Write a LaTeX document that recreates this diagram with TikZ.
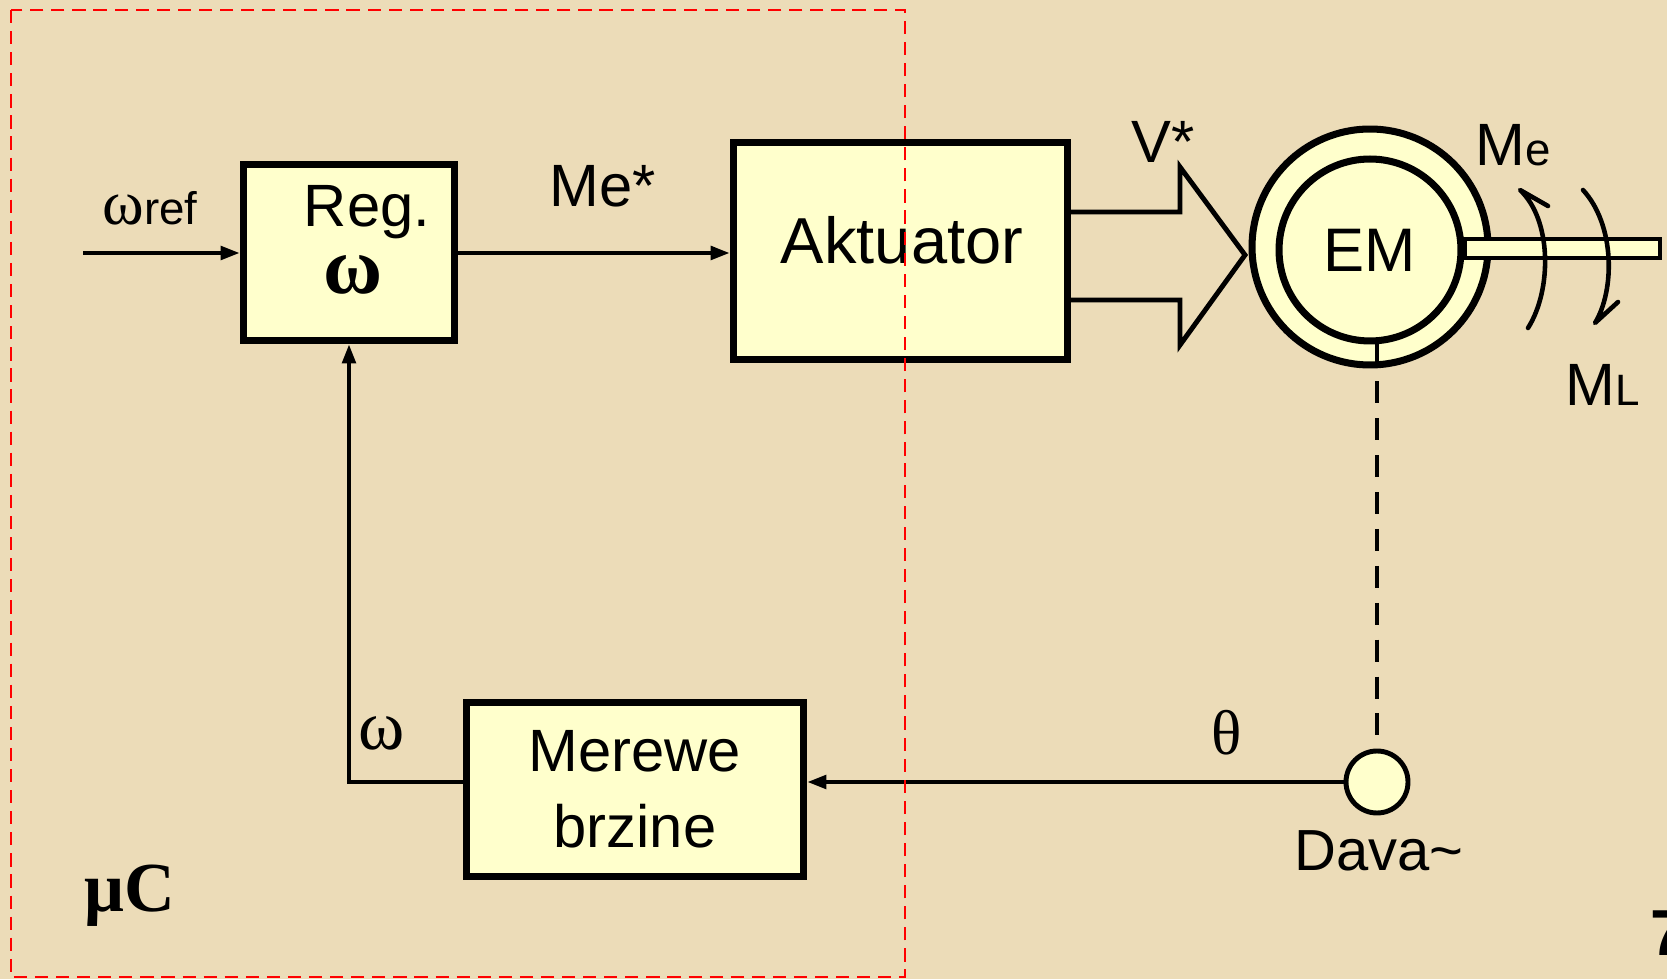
\documentclass[tikz,border=0pt]{standalone}
\usepackage{fontspec}
\setmainfont{Liberation Serif}
\setsansfont{Liberation Sans}
\usetikzlibrary{arrows.meta}
\definecolor{parch}{RGB}{236,220,184}
\definecolor{boxyel}{RGB}{255,255,204}

\begin{document}
\begin{tikzpicture}[x=0.02cm, y=-0.02cm, every node/.style={inner sep=0pt, font=\sffamily\fontsize{34}{43}\selectfont},
	blok/.style={draw=black, line width=4pt, fill=boxyel},
	veza/.style={line width=2.6pt, -{Triangle[length=11pt, width=7.5pt]}},
	okret/.style={line width=2.6pt, line cap=round, line join=round},
	grk/.style={font=\rmfamily\fontsize{40}{44}\selectfont}]
	\path[use as bounding box, fill=parch] (0,0) rectangle (1667,979);
	\node[blok, minimum width=4.22cm, minimum height=3.52cm] (reg) at (349,252.5) {};
	\node (regtxt) at (367,212) {Reg.};
	\node[grk, font=\rmfamily\bfseries\fontsize{46}{50}\selectfont] (regw) at (353,275) {ω};
	\node[blok, minimum width=6.68cm, minimum height=4.34cm] (akt) at (900.5,251) {};
	\node[font=\sffamily\fontsize{37}{40}\selectfont] (akttxt) at (902,240) {Aktuator};
	\node[blok, minimum width=6.74cm, minimum height=3.48cm, align=center] (mer) at (635,789.5) {Merewe\\brzine};
	\node[blok, circle, minimum size=4.72cm] (emout) at (1370,247) {};
	\node[blok, circle, minimum size=3.64cm, font=\sffamily\fontsize{35}{40}\selectfont] (em) at (1370,250) {EM};
	\draw[line width=2.8pt, fill=boxyel] (em.east |- 0,239) rectangle (1660,258);
	\node[draw, circle, line width=2.8pt, fill=boxyel, minimum size=1.24cm] (sens) at (1377,782) {};
	\coordinate (wref) at (83,253);
	\draw[veza] (wref) -- (reg.west |- wref);
	\draw[veza] (reg.east |- wref) -- (akt.west |- wref);
	\draw[line width=2.8pt, line join=miter] (1067.5,212) -- (1180,212) -- (1180,167) -- (1245,255) -- (1180,345) -- (1180,300) -- (1067.5,300);
	\draw[line width=2.4pt, dash pattern=on 12.5pt off 8.5pt] (em.south -| sens) -- (sens.north);
	\draw[veza] (sens.west) -- (sens.west -| mer.east);
	\draw[veza] (mer.west |- sens.west) -| (reg.south);
	\draw[okret] (1528,328) .. controls (1552,290) and (1552,220) .. (1520,190) -- (1548,206);
	\draw[okret] (1583,190) .. controls (1615,225) and (1615,290) .. (1595,323) -- (1618,302);
	\node[font=\sffamily\fontsize{26}{30}\selectfont] (wreflbl) at (150,208) {{\rmfamily\fontsize{36}{30}\selectfont ω}ref};
	\node (mezv) at (603,186) {Me*};
	\node (vzv) at (1163,142) {V*};
	\node (melbl) at (1513,145) {M{\fontsize{26}{30}\selectfont e}};
	\node (mllbl) at (1603,385) {M{\fontsize{25}{30}\selectfont L}};
	\node[grk] (wlbl) at (382,733) {ω};
	\node[grk, font=\rmfamily\fontsize{36}{40}\selectfont] (theta) at (1227,733) {θ};
	\node[font=\sffamily\fontsize{33}{40}\selectfont] (dava) at (1379,851) {Dava\textasciitilde};
	\node[font=\rmfamily\bfseries\fontsize{40}{44}\selectfont] (muc) at (130,896) {μC};
	\node[anchor=west, font=\sffamily\bfseries\fontsize{37}{40}\selectfont] (sedam) at (1650,933) {7};
	\draw[red, line width=1.2pt, dash pattern=on 7.5pt off 4.5pt] (11,10) rectangle (905,977);
\end{tikzpicture}
\end{document}
